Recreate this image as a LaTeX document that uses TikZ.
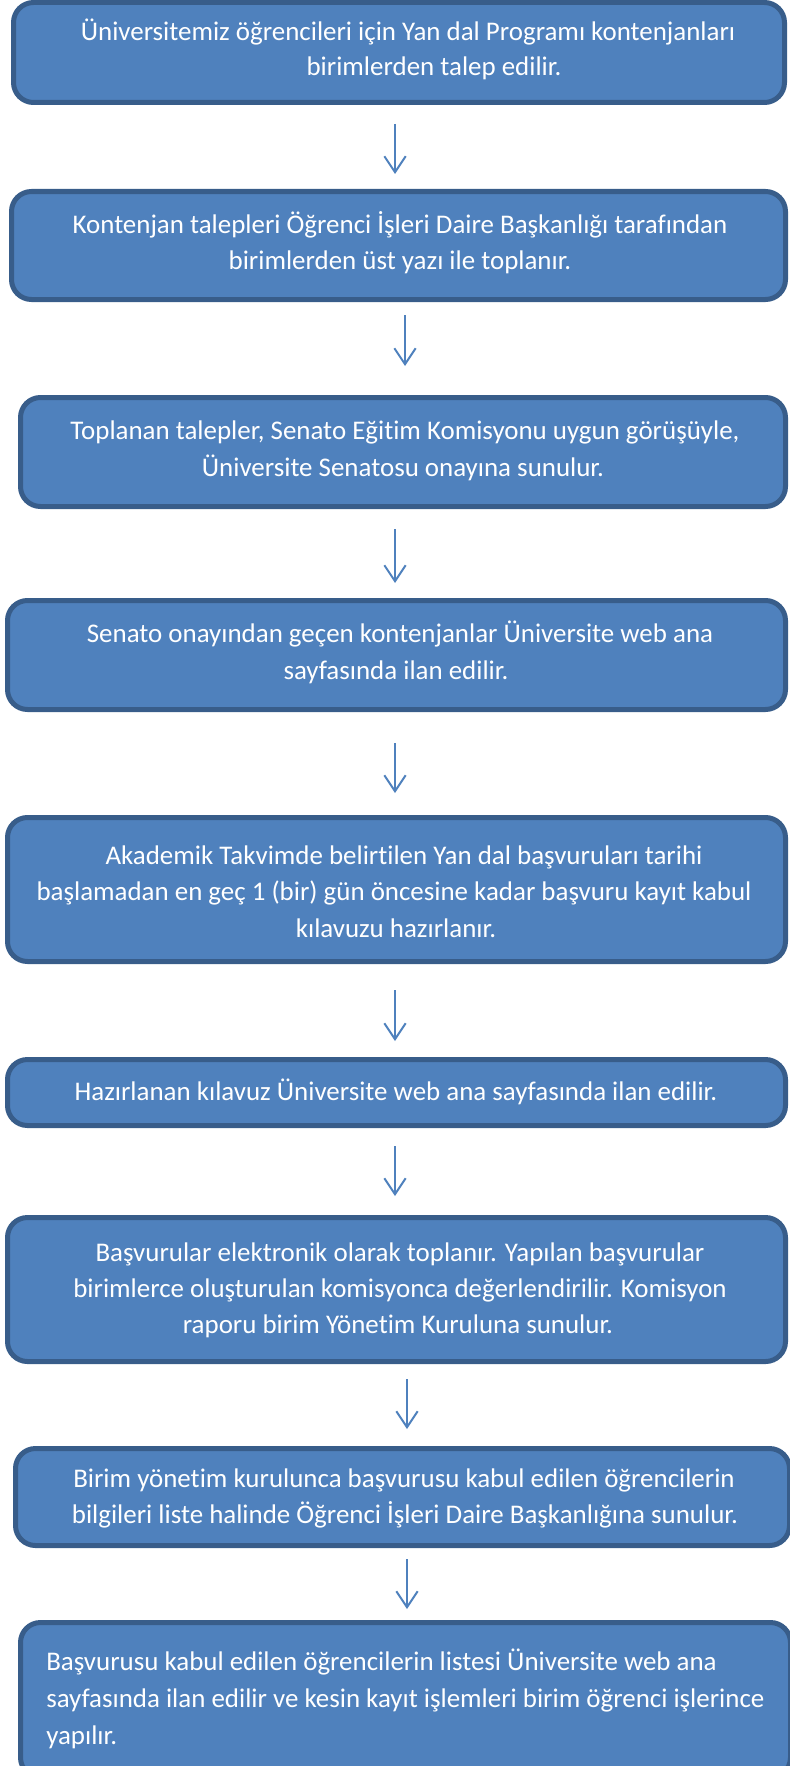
\documentclass[tikz,border=0pt]{standalone}
\usepackage{fontspec}
\setmainfont{Carlito}[Ligatures=NoCommon]
\usetikzlibrary{arrows.meta}
\definecolor{boxfill}{HTML}{4F81BD}
\definecolor{boxline}{HTML}{385D8A}
\definecolor{arrcol}{HTML}{4F81BD}
\tikzset{
  fbox/.style={draw=boxline, fill=boxfill, line width=3.75pt, rounded corners=15pt, inner sep=0pt},
  txt/.style={text=white, inner sep=0pt, font=\fontsize{20.2}{29}\selectfont, text height=0.7em, text depth=0.2em},
  ltxt/.style={txt, anchor=west},
  arr/.style={draw=arrcol, line width=1.5pt, -{Straight Barb[length=12pt, width=16pt, line width=1.5pt]}}
}
\newcommand{\flowbox}[5]{\node[fbox, minimum width={(#4-#2-5)*0.75pt}, minimum height={(#5-#3-5)*0.75pt}] (#1) at ({(#2+#4)/2},{(#3+#5)/2}) {};}
\begin{document}
\begin{tikzpicture}[x=0.75pt, y=-0.75pt]
\useasboundingbox (0,0) rectangle (789,1766);
% boxes
\flowbox{b1}{11}{0}{787}{105}
\flowbox{b2}{9}{189}{788}{302}
\flowbox{b3}{18}{395}{788}{509}
\flowbox{b4}{5}{598}{788}{712}
\flowbox{b5}{5}{815}{788}{964}
\flowbox{b6}{5}{1057}{788}{1128}
\flowbox{b7}{5}{1215}{788}{1364}
\flowbox{b8}{13}{1446}{792}{1548}
\flowbox{b9}{18}{1620}{793}{1780}
% texts
\node[txt] (t11) at (408,37) {Üniversitemiz öğrencileri için Yan dal Programı kontenjanları};
\node[txt] (t12) at (434,72) {birimlerden talep edilir.};
\node[txt] (t21) at (400,230) {Kontenjan talepleri Öğrenci İşleri Daire Başkanlığı tarafından};
\node[txt] (t22) at (400,266) {birimlerden üst yazı ile toplanır.};
\node[txt] (t31) at (405,436) {Toplanan talepler, Senato Eğitim Komisyonu uygun görüşüyle,};
\node[txt] (t32) at (403,473) {Üniversite Senatosu onayına sunulur.};
\node[txt] (t41) at (400,639) {Senato onayından geçen kontenjanlar Üniversite web ana};
\node[txt] (t42) at (396,676) {sayfasında ilan edilir.};
\node[txt] (t51) at (404,861) {Akademik Takvimde belirtilen Yan dal başvuruları tarihi};
\node[txt] (t52) at (394,897) {başlamadan en geç 1 (bir) gün öncesine kadar başvuru kayıt kabul};
\node[txt] (t53) at (396,934) {kılavuzu hazırlanır.};
\node[txt] (t61) at (396,1097) {Hazırlanan kılavuz Üniversite web ana sayfasında ilan edilir.};
\node[txt] (t71) at (400,1258) {Başvurular elektronik olarak toplanır. Yapılan başvurular};
\node[txt] (t72) at (400,1294) {birimlerce oluşturulan komisyonca değerlendirilir. Komisyon};
\node[txt] (t73) at (398,1330) {raporu birim Yönetim Kuruluna sunulur.};
\node[txt] (t81) at (404,1484) {Birim yönetim kurulunca başvurusu kabul edilen öğrencilerin};
\node[txt] (t82) at (405,1520) {bilgileri liste halinde Öğrenci İşleri Daire Başkanlığına sunulur.};
\node[ltxt] (t91) at (46,1667) {Başvurusu kabul edilen öğrencilerin listesi Üniversite web ana};
\node[ltxt] (t92) at (46,1704) {sayfasında ilan edilir ve kesin kayıt işlemleri birim öğrenci işlerince};
\node[ltxt] (t93) at (46,1741) {yapılır.};
% arrow end points
\coordinate (a1s) at (395,124); \coordinate (a1e) at (395,174);
\coordinate (a2s) at (405,315); \coordinate (a2e) at (405,366);
\coordinate (a3s) at (395,529); \coordinate (a3e) at (395,583);
\coordinate (a4s) at (395,743); \coordinate (a4e) at (395,793);
\coordinate (a5s) at (395,990); \coordinate (a5e) at (395,1041);
\coordinate (a6s) at (395,1146); \coordinate (a6e) at (395,1196);
\coordinate (a7s) at (407,1379); \coordinate (a7e) at (407,1429);
\coordinate (a8s) at (407,1559); \coordinate (a8e) at (407,1609);
\foreach \i in {1,...,8} { \draw[arr] (a\i s) -- (a\i e); }
\end{tikzpicture}
\end{document}
